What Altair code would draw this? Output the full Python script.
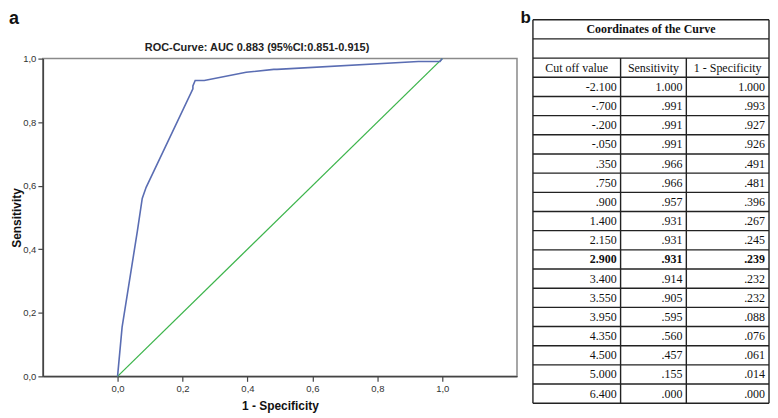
import altair as alt
import pandas as pd

# ---------------- data ----------------
cutoff = [-2.100, -0.700, -0.200, -0.050, 0.350, 0.750, 0.900, 1.400, 2.150,
          2.900, 3.400, 3.550, 3.950, 4.350, 4.500, 5.000, 6.400]
sensitivity = [1.000, 0.991, 0.991, 0.991, 0.966, 0.966, 0.957, 0.931, 0.931,
               0.931, 0.914, 0.905, 0.595, 0.560, 0.457, 0.155, 0.000]
one_minus_spec = [1.000, 0.993, 0.927, 0.926, 0.491, 0.481, 0.396, 0.267, 0.245,
                  0.239, 0.232, 0.232, 0.088, 0.076, 0.061, 0.014, 0.000]
optimal_cutoff = 2.900

diag_x = [0.0, 1.0]
diag_y = [0.0, 1.0]
axis_ticks = [0.0, 0.2, 0.4, 0.6, 0.8, 1.0]
x_domain = [-0.23, 1.23]
y_domain = [0.0, 1.0]

chart_title = "ROC-Curve: AUC 0.883 (95%CI:0.851-0.915)"
x_title = "1 - Specificity"
y_title = "Sensitivity"
table_title = "Coordinates of the Curve"
headers = ["Cut off value", "Sensitivity", "1 - Specificity"]
panel_labels = ["a", "b"]

# ---------------- layout constants ----------------
W1, H1 = 476, 319          # ROC plot area
TW = 237                   # table width
T_TOP, T_BOTTOM = -39, 346 # table extent relative to the shared panel top
COL_EDGES = [0, 88, 154, 237]
N_ROWS = 20                # title, blank, header, 17 data rows
SANS = "Liberation Sans"
SERIF = "Liberation Serif"


def fmt(v):
    s = f"{v:.3f}"
    if s.startswith("0."):
        s = s[1:]
    elif s.startswith("-0."):
        s = "-" + s[2:]
    return s


# ---------------- ROC panel ----------------
roc_df = pd.DataFrame({"cutoff": cutoff, "fpr": one_minus_spec, "tpr": sensitivity})
diag_df = pd.DataFrame({"fpr": diag_x, "tpr": diag_y})

label_expr = "replace(format(datum.value, '.1f'), '.', ',')"
common_axis = dict(grid=False, tickSize=5, labelPadding=2,
                   labelFont=SANS, labelFontSize=9.5, labelColor="#333",
                   titleFont=SANS, titleFontSize=12, titleFontWeight="bold",
                   titleColor="#111", domainColor="#444", domainWidth=1.5,
                   tickColor="#444", tickWidth=1.2, values=axis_ticks,
                   labelExpr=label_expr)

xs = alt.Scale(domain=x_domain, nice=False, zero=False)
ys = alt.Scale(domain=y_domain, nice=False)

x_enc = alt.X("fpr:Q", scale=xs,
              axis=alt.Axis(title=x_title, titlePadding=8, **common_axis))
y_enc = alt.Y("tpr:Q", scale=ys,
              axis=alt.Axis(title=y_title, titlePadding=-1, **common_axis))

diag = alt.Chart(diag_df).mark_line(color="#3cb44b", strokeWidth=1.3).encode(
    x=x_enc, y=y_enc)

roc = alt.Chart(roc_df).mark_line(color="#5a6db3", strokeWidth=1.6).encode(
    x=x_enc, y=y_enc, order=alt.Order("cutoff:Q", sort="descending"))

title_df = pd.DataFrame({"t": [chart_title]})
title_mark = alt.Chart(title_df).mark_text(
    font=SANS, fontSize=11, fontWeight="bold", color="#222",
    align="center", baseline="middle").encode(
    text="t:N", x=alt.value(215), y=alt.value(-11))

a_df = pd.DataFrame({"t": [panel_labels[0]]})
a_mark = alt.Chart(a_df).mark_text(
    font=SANS, fontSize=18, fontWeight="bold", color="#111",
    align="left", baseline="top").encode(
    text="t:N", x=alt.value(-34), y=alt.value(-49))

left = alt.layer(diag, roc, title_mark, a_mark).properties(
    width=W1, height=H1,
    view=alt.ViewBackground(stroke="#8a8a8a", strokeWidth=1.5))

# ---------------- table panel ----------------
tx = alt.Scale(domain=[0, 1, 2, 3], range=COL_EDGES, nice=False, zero=False)
ty = alt.Scale(domain=[0, N_ROWS], range=[T_TOP, T_BOTTOM], nice=False, zero=False)

h_lines = pd.DataFrame({"y": list(range(N_ROWS + 1)), "x": 0, "x2": 3})
v_lines = pd.DataFrame({"x": [0, 1, 2, 3],
                        "y": [0, 2, 2, 0],
                        "y2": [N_ROWS] * 4})

hr = alt.Chart(h_lines).mark_rule(color="#222", strokeWidth=1.4).encode(
    x=alt.X("x:Q", scale=tx, axis=None), x2="x2:Q",
    y=alt.Y("y:Q", scale=ty, axis=None))
vr = alt.Chart(v_lines).mark_rule(color="#222", strokeWidth=1.4).encode(
    x=alt.X("x:Q", scale=tx, axis=None),
    y=alt.Y("y:Q", scale=ty, axis=None), y2="y2:Q")

cells = []
for i, (c, s, f) in enumerate(zip(cutoff, sensitivity, one_minus_spec)):
    for j, v in enumerate([c, s, f]):
        cells.append({"row": 3 + i + 0.5, "edge": j + 1, "text": fmt(v),
                      "bold": c == optimal_cutoff})
cells_df = pd.DataFrame(cells)

cell_base = alt.Chart(cells_df).encode(
    x=alt.X("edge:Q", scale=tx, axis=None),
    y=alt.Y("row:Q", scale=ty, axis=None),
    text="text:N")
cell_txt = cell_base.transform_filter("!datum.bold").mark_text(
    font=SERIF, fontSize=12, color="#111", align="right", baseline="middle", dx=-4)
cell_bold = cell_base.transform_filter("datum.bold").mark_text(
    font=SERIF, fontSize=12, fontWeight="bold", color="#111", align="right",
    baseline="middle", dx=-4)

head_df = pd.DataFrame({"text": headers, "col": [0.5, 1.5, 2.5], "row": [2.5] * 3})
head_txt = alt.Chart(head_df).mark_text(
    font=SERIF, fontSize=12, color="#111", align="center", baseline="middle").encode(
    x=alt.X("col:Q", scale=tx, axis=None),
    y=alt.Y("row:Q", scale=ty, axis=None), text="text:N")

ttitle_df = pd.DataFrame({"text": [table_title], "row": [0.5]})
ttitle = alt.Chart(ttitle_df).mark_text(
    font=SERIF, fontSize=12, fontWeight="bold", color="#111",
    align="center", baseline="middle").encode(
    x=alt.value(TW / 2), y=alt.Y("row:Q", scale=ty, axis=None), text="text:N")

b_df = pd.DataFrame({"t": [panel_labels[1]]})
b_mark = alt.Chart(b_df).mark_text(
    font=SANS, fontSize=17, fontWeight="bold", color="#111",
    align="right", baseline="top").encode(
    text="t:N", x=alt.value(-2), y=alt.value(-49))

right = alt.layer(hr, vr, cell_txt, cell_bold, head_txt, ttitle, b_mark).properties(
    width=TW, height=T_BOTTOM)

chart = alt.hconcat(left, right, spacing=2).configure_view(
    stroke=None).properties(padding=0, background="white")

chart.save("out.html", embed_options={"renderer": "svg", "actions": False})
